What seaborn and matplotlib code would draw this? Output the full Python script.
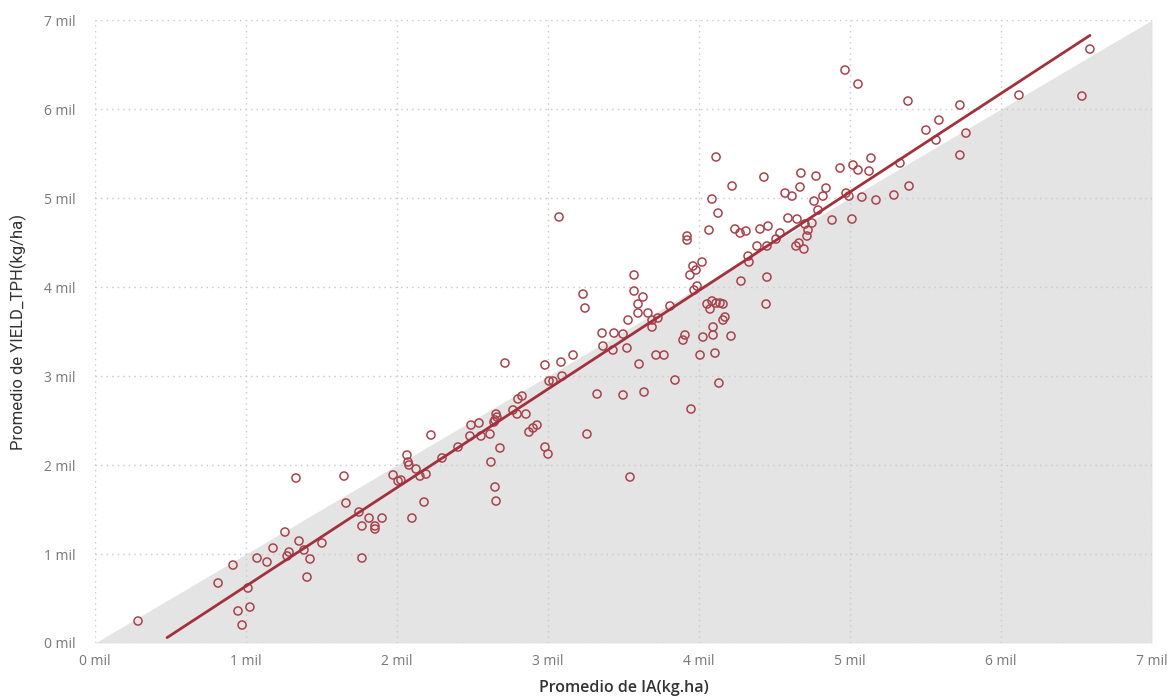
import numpy as np
import pandas as pd
import matplotlib.pyplot as plt
import seaborn as sns
from matplotlib.ticker import FuncFormatter, MultipleLocator

# Promedio de IA (kg.ha) vs Promedio de YIELD_TPH (kg/ha)
ia = [285, 815, 914, 947, 974, 1026, 1013, 1073, 1139, 1179, 1258, 1272, 1285, 1351, 1384,
      1404, 1424, 1503, 1331, 1649, 1662, 1748, 1768, 1768, 1815, 1854, 1854, 1901, 1974,
      2007, 2026, 2079, 2066, 2073, 2099, 2126, 2152, 2192, 2179, 2225, 2298, 2404, 2490,
      2483, 2543, 2556, 2616, 2642, 2649, 2656, 2662, 2622, 2649, 2656, 2715, 2682, 2768,
      2795, 2801, 2828, 2854, 2901, 2874, 2927, 2980, 3000, 2980, 3007, 3033, 3086, 3093,
      3073, 3166, 3232, 3245, 3258, 3325, 3358, 3364, 3430, 3437, 3497, 3530, 3497, 3523,
      3543, 3570, 3570, 3596, 3596, 3603, 3629, 3636, 3662, 3689, 3689, 3715, 3728, 3768,
      3808, 3841, 3894, 3907, 3921, 3921, 3940, 3947, 3960, 3967, 3980, 3987, 4020, 4007,
      4026, 4053, 4066, 4086, 4073, 4086, 4093, 4093, 4113, 4113, 4126, 4106, 4132, 4139,
      4159, 4159, 4172, 4212, 4219, 4238, 4272, 4278, 4311, 4325, 4331, 4384, 4404, 4430,
      4457, 4444, 4450, 4450, 4510, 4536, 4570, 4589, 4616, 4642, 4662, 4649, 4669, 4675,
      4695, 4702, 4715, 4722, 4748, 4762, 4775, 4788, 4821, 4841, 4881, 4934, 4967, 4974,
      4993, 5013, 5020, 5053, 5053, 5079, 5126, 5139, 5172, 5291, 5331, 5384, 5391, 5503,
      5570, 5589, 5728, 5728, 5768, 6119, 6536, 6589]
yield_tph = [247, 674, 876, 360, 202, 404, 618, 955, 910, 1067, 1247, 978, 1022, 1146, 1045,
             741, 944, 1124, 1854, 1876, 1573, 1472, 1315, 955, 1404, 1315, 1281, 1404, 1888,
             1820, 1831, 2000, 2112, 2034, 1404, 1955, 1876, 1898, 1584, 2337, 2079, 2202, 2449,
             2326, 2472, 2326, 2348, 2483, 2506, 2573, 2539, 2034, 1753, 1595, 3146, 2191, 2618,
             2573, 2742, 2775, 2573, 2416, 2371, 2449, 2202, 2124, 3124, 2944, 2944, 3157, 3000,
             4787, 3236, 3921, 3764, 2348, 2798, 3483, 3337, 3292, 3483, 3472, 3629, 2787, 3315,
             1865, 4135, 3955, 3809, 3708, 3135, 3888, 2820, 3708, 3629, 3551, 3236, 3652, 3236,
             3787, 2955, 3404, 3461, 4528, 4573, 4135, 2629, 4236, 3966, 4191, 4011, 4281, 3236,
             3438, 3809, 4640, 4989, 3753, 3843, 3551, 3461, 3820, 5461, 4831, 3258, 2921, 3820,
             3809, 3629, 3663, 3449, 5135, 4652, 4607, 4067, 4629, 4348, 4281, 4461, 4652, 5236,
             4685, 3809, 4112, 4461, 4539, 4607, 5056, 4775, 5022, 4461, 4494, 4764, 5124, 5281,
             4427, 4708, 4573, 4640, 4719, 4966, 5247, 4865, 5022, 5112, 4753, 5337, 6438, 5056,
             5022, 4764, 5371, 6281, 5315, 5011, 5303, 5449, 4978, 5034, 5393, 6090, 5135, 5764,
             5652, 5876, 6045, 5483, 5730, 6157, 6146, 6674]

x_label = "Promedio de IA(kg.ha)"
y_label = "Promedio de YIELD_TPH(kg/ha)"
axis_max = 7000
trend_start = 477  # trend line starts here in the original

df = pd.DataFrame({"IA": ia, "YIELD": yield_tph})

sns.set_style("white")
plt.rcParams['font.family'] = ['Open Sans', 'DejaVu Sans']

fig = plt.figure(figsize=(11.7, 6.98), dpi=100)
ax = fig.add_axes([0.0812, 0.0788, 0.9034, 0.8925])

# gray area below the 1:1 line
ax.fill_between([0, axis_max], [0, 0], [0, axis_max], color='#e4e4e4', lw=0, zorder=0)

sns.scatterplot(data=df, x="IA", y="YIELD", ax=ax, marker='o', s=34,
                facecolor='none', edgecolor='#a8434c', linewidth=1.1, zorder=3)

# linear trend
slope, intercept = np.polyfit(df["IA"], df["YIELD"], 1)
xs = np.array([trend_start, df["IA"].max()])
ax.plot(xs, slope * xs + intercept, color='#a3313d', lw=2, zorder=4)

ax.set_xlim(0, axis_max)
ax.set_ylim(0, axis_max)
ax.xaxis.set_major_locator(MultipleLocator(1000))
ax.yaxis.set_major_locator(MultipleLocator(1000))
fmt = FuncFormatter(lambda v, p: f"{int(round(v / 1000))} mil")
ax.xaxis.set_major_formatter(fmt)
ax.yaxis.set_major_formatter(fmt)
ax.grid(True, linestyle=(0, (1, 3)), color='#c8c8c8', lw=1)
ax.set_axisbelow(True)
for s in ax.spines.values():
    s.set_visible(False)
ax.tick_params(axis='both', length=0, labelsize=10, labelcolor='#777777')
ax.tick_params(axis='x', pad=8)
ax.tick_params(axis='y', pad=14)
ax.set_xlabel(x_label, fontsize=11.5, color='#333333', labelpad=8, fontweight='semibold')
ax.set_ylabel(y_label, fontsize=12, color='#333333', labelpad=12,
              family=['Liberation Sans Narrow', 'Roboto', 'DejaVu Sans'])

fig.savefig("out.png", dpi=100)
